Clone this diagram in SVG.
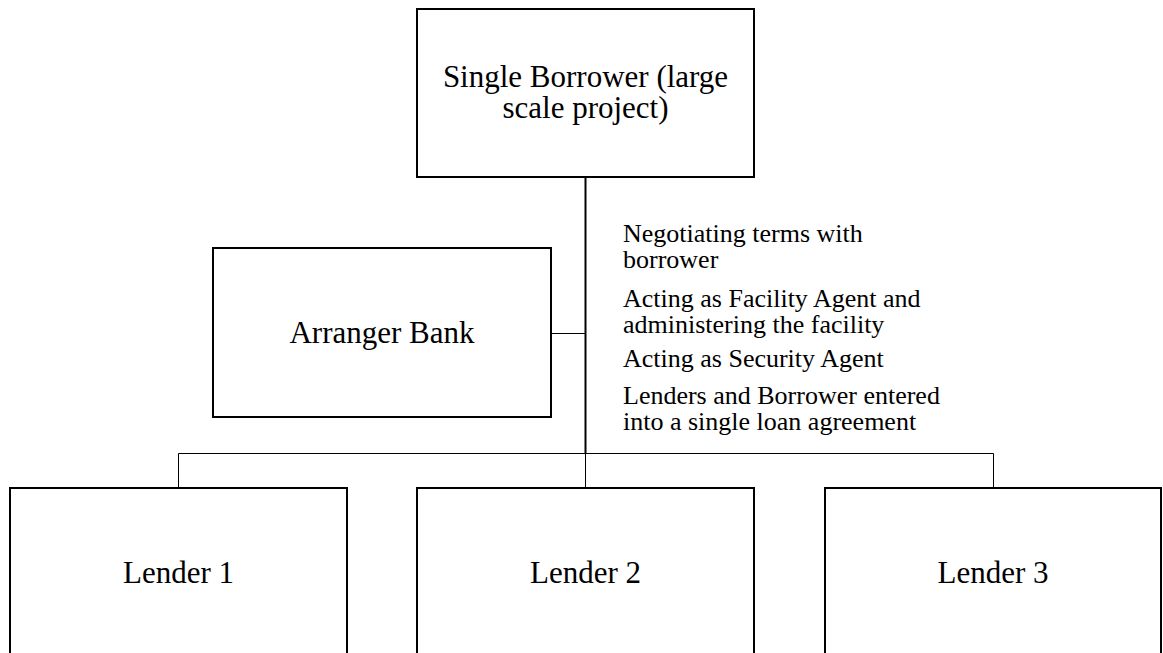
<svg xmlns="http://www.w3.org/2000/svg" width="1163" height="653" viewBox="0 0 1163 653">
<style>
.box{fill:#fff;stroke:#000;stroke-width:2}
.lbl{font-family:"Liberation Serif","Times New Roman",serif;font-size:31px;fill:#000;text-anchor:middle}
.note{font-family:"Liberation Serif","Times New Roman",serif;font-size:26px;fill:#000}
.thick{stroke:#000;stroke-width:2;fill:none}
.thin{stroke:#000;stroke-width:1;fill:none}
</style>
<rect width="1163" height="653" fill="#fff"/>
<g id="connectors">
<line class="thick" x1="585.5" y1="177" x2="585.5" y2="453"/>
<line class="thin" x1="551" y1="333.5" x2="585" y2="333.5"/>
<polyline class="thin" points="178.5,488 178.5,453.5 993.5,453.5 993.5,488"/>
<line class="thin" x1="585.5" y1="453" x2="585.5" y2="488"/>
</g>
<g id="borrower">
<rect class="box" x="417" y="9" width="337" height="168"/>
<text class="lbl" x="585.5" y="87">Single Borrower (large<tspan x="585.5" y="118">scale project)</tspan></text>
</g>
<g id="arranger">
<rect class="box" x="213" y="248" width="338" height="169"/>
<text class="lbl" x="382" y="343">Arranger Bank</text>
</g>
<g id="notes">
<text class="note" x="623" y="242">Negotiating terms with<tspan x="623" y="268">borrower</tspan></text>
<text class="note" x="623" y="307">Acting as Facility Agent and<tspan x="623" y="333">administering the facility</tspan></text>
<text class="note" x="623" y="367">Acting as Security Agent</text>
<text class="note" x="623" y="404">Lenders and Borrower entered<tspan x="623" y="430">into a single loan agreement</tspan></text>
</g>
<g id="lender1">
<rect class="box" x="10" y="488" width="337" height="200"/>
<text class="lbl" x="178.5" y="583">Lender 1</text>
</g>
<g id="lender2">
<rect class="box" x="417" y="488" width="337" height="200"/>
<text class="lbl" x="585.5" y="583">Lender 2</text>
</g>
<g id="lender3">
<rect class="box" x="825" y="488" width="336" height="200"/>
<text class="lbl" x="993" y="583">Lender 3</text>
</g>
</svg>
